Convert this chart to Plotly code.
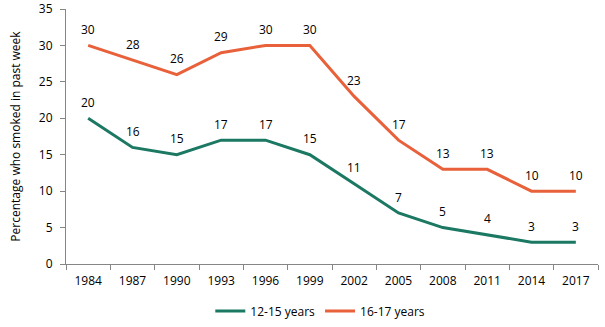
import plotly.graph_objects as go

years = ["1984", "1987", "1990", "1993", "1996", "1999", "2002", "2005", "2008", "2011", "2014", "2017"]
age_12_15 = [20, 16, 15, 17, 17, 15, 11, 7, 5, 4, 3, 3]
age_16_17 = [30, 28, 26, 29, 30, 30, 23, 17, 13, 13, 10, 10]

green = "#1B7862"
orange = "#E8613A"
font_family = "Open Sans, DejaVu Sans, sans-serif"

fig = go.Figure()
fig.add_trace(go.Scatter(x=years, y=age_12_15, mode="lines", name="12-15 years",
                         line=dict(color=green, width=3)))
fig.add_trace(go.Scatter(x=years, y=age_16_17, mode="lines", name="16-17 years",
                         line=dict(color=orange, width=3)))

# value labels above each point (x given as category index)
for series in (age_12_15, age_16_17):
    for i, v in enumerate(series):
        fig.add_annotation(x=i, y=v, xref="x", yref="y", text=str(v), showarrow=False,
                           yshift=16, font=dict(size=12, color="#000000", family=font_family))

fig.update_layout(
    width=605, height=327,
    margin=dict(l=66, r=7, t=9, b=63, autoexpand=False),
    plot_bgcolor="white", paper_bgcolor="white",
    font=dict(family=font_family, size=12, color="#000000"),
    showlegend=True,
    legend=dict(orientation="h", x=0.478, xanchor="center", y=-0.184, yanchor="middle",
                font=dict(size=12), itemwidth=30, tracegroupgap=0),
)
fig.update_xaxes(type="category", range=[-0.5, 11.5], showline=True, linecolor="#868686",
                 linewidth=1, ticks="outside", tickson="boundaries", ticklen=5,
                 tickcolor="#868686", showgrid=False, tickfont=dict(size=12),
                 ticklabelstandoff=6, automargin=False)
fig.update_yaxes(range=[0, 35], dtick=5, showline=True, linecolor="#868686", linewidth=1,
                 ticks="outside", ticklen=5, tickcolor="#868686", showgrid=False,
                 zeroline=False, tickfont=dict(size=12), ticklabelstandoff=5, automargin=False,
                 title=dict(text="Percentage who smoked in past week", font=dict(size=12), standoff=15))

fig.write_html("out.html")
